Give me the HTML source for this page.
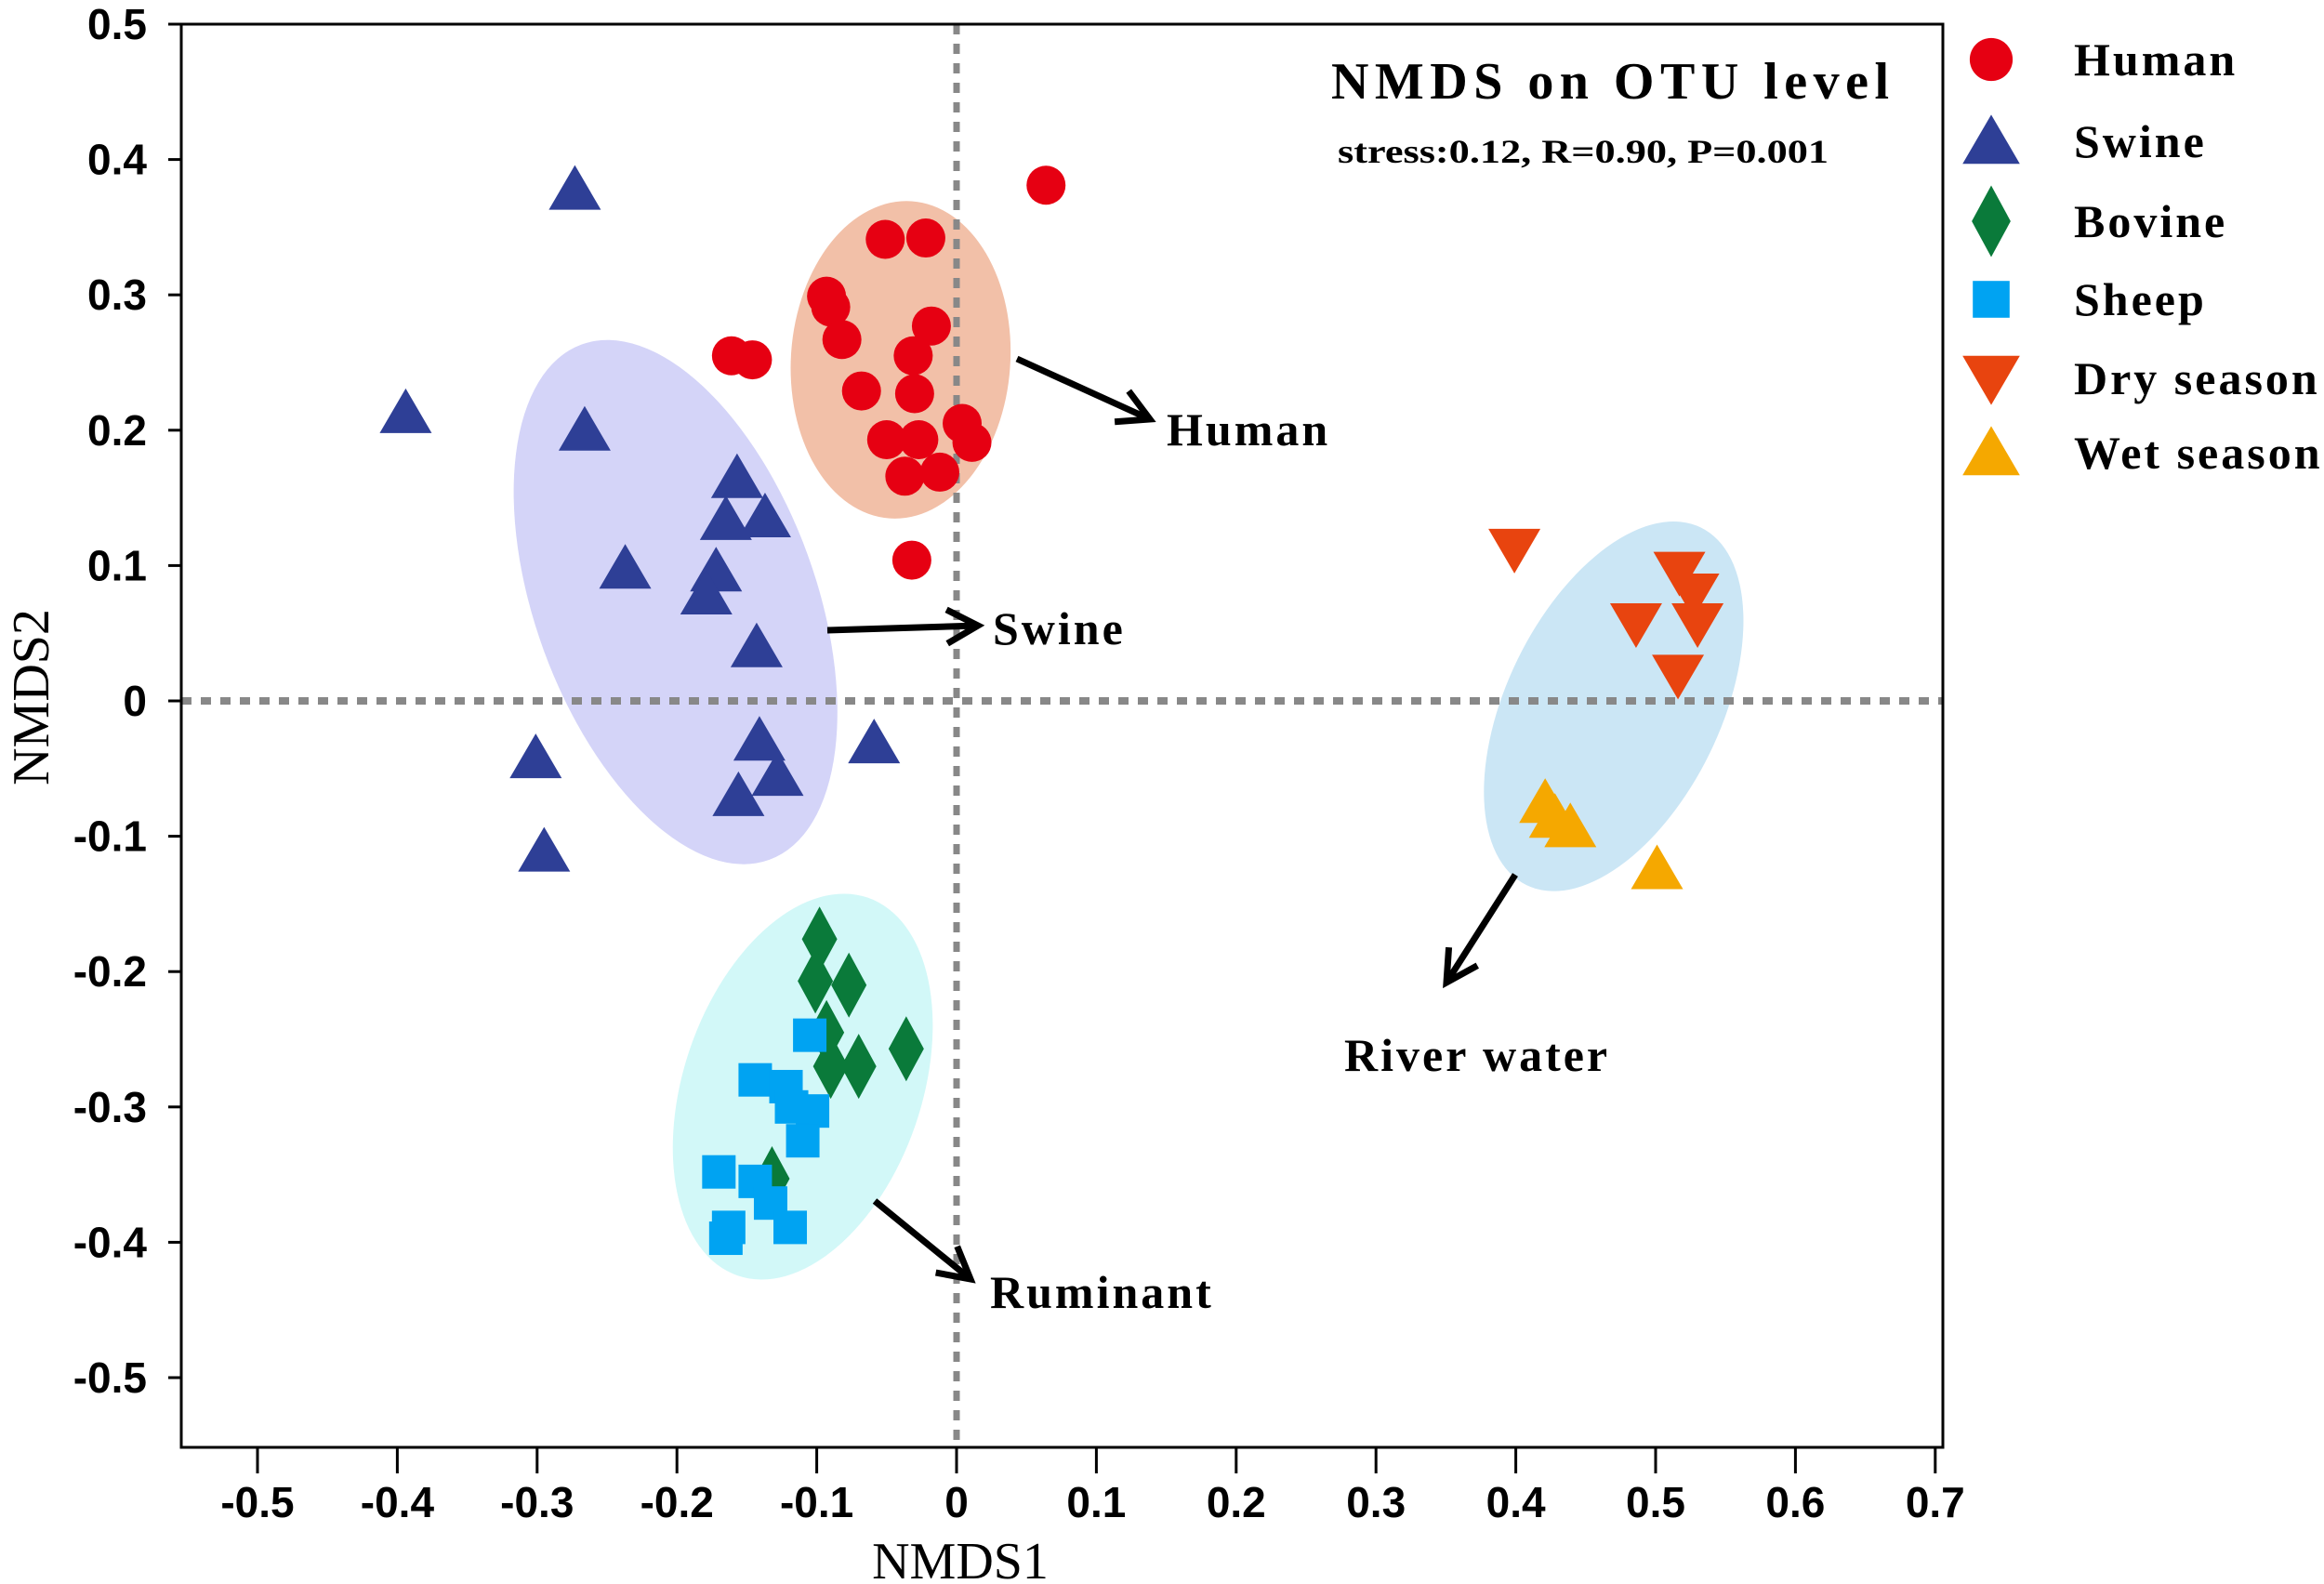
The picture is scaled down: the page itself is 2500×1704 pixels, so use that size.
<!DOCTYPE html>
<html><head><meta charset="utf-8"><style>
html,body{margin:0;padding:0;background:#fff;width:2500px;height:1704px;overflow:hidden}
svg{display:block}
.tk{font-family:"Liberation Sans",Arial,sans-serif;font-weight:bold;font-size:46px;fill:#000}
.sf{font-family:"Liberation Serif","Times New Roman",serif;font-weight:bold;fill:#000}
</style></head><body>
<svg id="chart" width="2500" height="1704" viewBox="0 0 2500 1704" xmlns="http://www.w3.org/2000/svg">
<g id="ellipses"></g>
<g id="refs"></g>
<g id="marks"></g>
<g id="axes"></g>
<g id="annot"></g>
<text class="sf" x="1432" y="106" font-size="56" textLength="600" lengthAdjust="spacing">NMDS on OTU level</text>
<text class="sf" x="1439" y="175" font-size="36" textLength="528" lengthAdjust="spacingAndGlyphs">stress:0.12, R=0.90, P=0.001</text>
<text class="sf" x="1033" y="1698" font-size="56" style="font-weight:normal" text-anchor="middle">NMDS1</text>
<text class="sf" x="0" y="0" font-size="56" style="font-weight:normal" text-anchor="middle" transform="translate(52,750) rotate(-90)">NMDS2</text>
<g id="legend"></g>
</svg>
<script>
const NS="http://www.w3.org/2000/svg";
const xTicks=[-0.5,-0.4,-0.3,-0.2,-0.1,0,0.1,0.2,0.3,0.4,0.5,0.6,0.7];
const yTicks=[0.5,0.4,0.3,0.2,0.1,0,-0.1,-0.2,-0.3,-0.4,-0.5];
const humanX=[0.064,-0.051,-0.022,-0.093,-0.090,-0.082,-0.018,-0.161,-0.146,-0.068,-0.031,-0.030,0.004,0.011,-0.050,-0.027,-0.037,-0.012,-0.032];
const humanY=[0.381,0.341,0.342,0.299,0.291,0.267,0.277,0.255,0.252,0.229,0.255,0.227,0.205,0.191,0.193,0.193,0.166,0.169,0.104];
const swineX=[-0.273,-0.394,-0.266,-0.157,-0.165,-0.137,-0.237,-0.172,-0.179,-0.143,-0.301,-0.141,-0.128,-0.156,-0.059,-0.295];
const swineY=[0.378,0.213,0.200,0.165,0.134,0.136,0.098,0.096,0.079,0.040,-0.042,-0.029,-0.055,-0.070,-0.031,-0.111];
const bovineX=[-0.098,-0.101,-0.077,-0.093,-0.090,-0.070,-0.036,-0.132];
const bovineY=[-0.176,-0.207,-0.210,-0.245,-0.270,-0.270,-0.257,-0.353];
const sheepX=[-0.105,-0.144,-0.122,-0.103,-0.110,-0.170,-0.144,-0.133,-0.163,-0.119,-0.165,-0.118];
const sheepY=[-0.247,-0.280,-0.285,-0.303,-0.325,-0.348,-0.355,-0.371,-0.389,-0.389,-0.397,-0.300];
const dryX=[0.399,0.486,0.517,0.527,0.530,0.516];
const dryY=[0.112,0.057,0.095,0.079,0.057,0.019];
const wetX=[0.421,0.428,0.439,0.501];
const wetY=[-0.075,-0.086,-0.093,-0.124];
const legendLabels=["Human","Swine","Bovine","Sheep","Dry season","Wet season"];

const L=195,R=2090,T=26,B=1557;
const fx=v=>1029+v*1504;
const fy=v=>754-v*1456;
function el(tag,attrs,parent){const e=document.createElementNS(NS,tag);for(const k in attrs)e.setAttribute(k,attrs[k]);parent.appendChild(e);return e;}
const C={human:"#e60012",swine:"#2e3f96",bovine:"#0a7a3a",sheep:"#00a3f2",dry:"#e8440f",wet:"#f5a800"};

const E=document.getElementById('ellipses');
[[-0.040,0.252,118,171,4,"#f2c0a8","human-ellipse"],[-0.201,0.073,151,295,-20,"#d4d4f8","swine-ellipse"],[-0.110,-0.285,128,215,19,"#d2f8f8","ruminant-ellipse"],[0.470,-0.004,115,214,26,"#cbe6f5","river-water-ellipse"]].forEach(a=>{
  const e=el('ellipse',{cx:0,cy:0,rx:a[2],ry:a[3],fill:a[5],transform:`translate(${fx(a[0])},${fy(a[1])}) rotate(${a[4]})`},E);
  
  
});

const RF=document.getElementById('refs');
let l1=el('line',{x1:L,x2:R,y1:fy(0),y2:fy(0),stroke:"#888",'stroke-width':8,'stroke-dasharray':"11 10"},RF);


let l2=el('line',{x1:fx(0),x2:fx(0),y1:T,y2:B,stroke:"#888",'stroke-width':7,'stroke-dasharray':"11 10"},RF);



function marker(type,x,y,parent,s){
  s=s||1;let e;
  if(type==='human') e=el('circle',{cx:x,cy:y,r:21*s,fill:C.human},parent);
  else if(type==='swine'||type==='wet') e=el('polygon',{points:`${x},${y-26*s} ${x-28*s},${y+22*s} ${x+28*s},${y+22*s}`,fill:C[type]},parent);
  else if(type==='dry') e=el('polygon',{points:`${x},${y+26*s} ${x-28*s},${y-22*s} ${x+28*s},${y-22*s}`,fill:C.dry},parent);
  else if(type==='bovine') e=el('polygon',{points:`${x},${y-35*s} ${x+19*s},${y} ${x},${y+35*s} ${x-19*s},${y}`,fill:C.bovine},parent);
  else e=el('rect',{x:x-18*s,y:y-18*s,width:36*s,height:36*s,fill:C.sheep},parent);
  return e;
}
const M=document.getElementById('marks');
const series=[['human',humanX,humanY],['swine',swineX,swineY],['bovine',bovineX,bovineY],['sheep',sheepX,sheepY],['dry',dryX,dryY],['wet',wetX,wetY]];
series.forEach(([t,xs,ys])=>{xs.forEach((v,i)=>{
  const m=marker(t,fx(v),fy(ys[i]),M);
  
  
});});

const A=document.getElementById('axes');
el('rect',{x:L,y:T,width:R-L,height:B-T,fill:'none',stroke:'#000','stroke-width':3},A);
xTicks.forEach(v=>{
  const x=fx(v);
  el('line',{x1:x,x2:x,y1:B,y2:B+28,stroke:'#000','stroke-width':3},A);
  const t=el('text',{x:x,y:1632,'text-anchor':'middle','class':'tk'},A);
  t.textContent=(v===0?'0':v.toFixed(1));
  
  
});
yTicks.forEach(v=>{
  const y=fy(v);
  el('line',{x1:L-14,x2:L,y1:y,y2:y,stroke:'#000','stroke-width':3},A);
  const t=el('text',{x:158,y:y+16,'text-anchor':'end','class':'tk'},A);
  t.textContent=(v===0?'0':v.toFixed(1));
  
  
});

const N=document.getElementById('annot');
function arrow(x1,y1,x2,y2,label,lx,ly,name){
  const g=el('g',{},N);
  
  
  el('line',{x1,y1,x2,y2,stroke:'#000','stroke-width':7},g);
  const a=Math.atan2(y2-y1,x2-x1),h=38,w=0.5;
  const p1=[x2-h*Math.cos(a-w),y2-h*Math.sin(a-w)],p2=[x2-h*Math.cos(a+w),y2-h*Math.sin(a+w)];
  el('polyline',{points:`${p1} ${x2},${y2} ${p2}`,fill:'none',stroke:'#000','stroke-width':7},g);
  const t=el('text',{x:lx,y:ly,'class':'sf','font-size':50,'letter-spacing':'3'},g);
  t.textContent=label;
}
arrow(1094,386,1237,451,'Human',1255,479,'human-arrow');
arrow(890,678,1052,673,'Swine',1068,693,'swine-arrow');
arrow(941,1292,1044,1376,'Ruminant',1065,1407,'ruminant-arrow');
arrow(1630,941,1556,1057,'River water',1446,1152,'river-water-arrow');

const G=document.getElementById('legend');
const lt=['human','swine','bovine','sheep','dry','wet'];
const ly=[64,152,238,322,407,487];
legendLabels.forEach((s,i)=>{
  const m=marker(lt[i],2142,ly[i],G,1.1);
  
  
  const t=el('text',{x:2231,y:ly[i]+17,'class':'sf','font-size':50,'letter-spacing':'3'},G);
  t.textContent=s;
  
  
});
</script>
</body></html>
